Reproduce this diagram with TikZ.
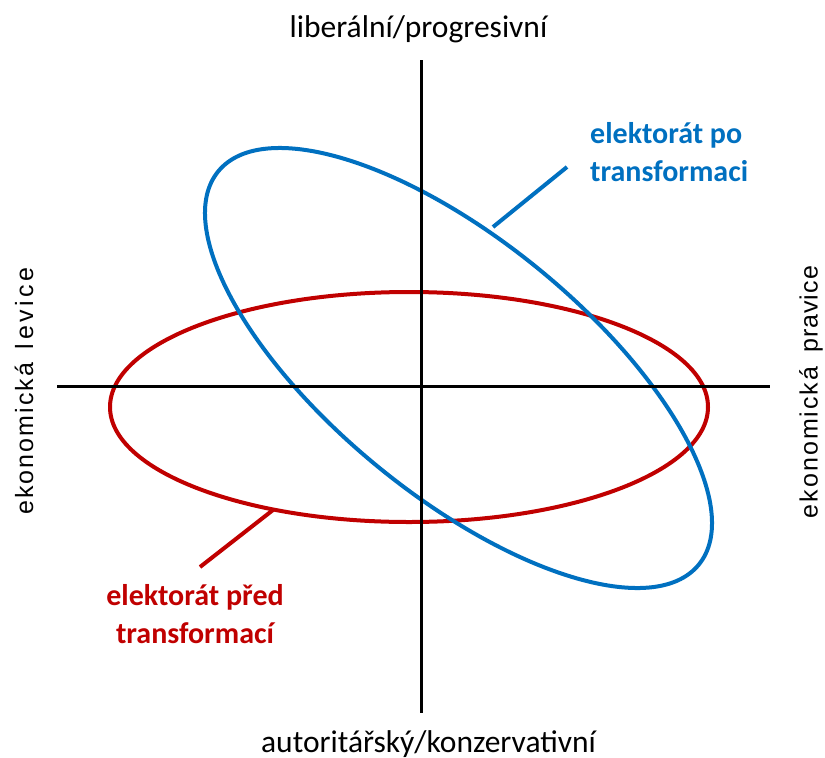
\documentclass[tikz,border=0pt]{standalone}
\usepackage{fontspec}
\setmainfont{Carlito}
\newfontfamily\arialf{Liberation Sans}
\definecolor{bluec}{HTML}{0070C0}
\definecolor{redc}{HTML}{C00000}
\tikzset{
  axisline/.style={line width=3pt, black},
  blueline/.style={line width=4pt, bluec},
  redline/.style={line width=4pt, redc},
  axislabel/.style={inner sep=0pt, font=\fontsize{31.5}{38}\selectfont},
  sidelabel/.style={inner sep=0pt, rotate=90, font=\arialf\fontsize{25}{30}\selectfont},
  grouplabel/.style={inner sep=0pt, font=\bfseries\fontsize{30}{38.5}\selectfont}
}
\begin{document}
\begin{tikzpicture}[x=1pt,y=-1pt]
\useasboundingbox (0,0) rectangle (825,758);
% ellipses
\draw[redline] (409,407) ellipse [x radius=299pt, y radius=115pt];
\draw[blueline, rotate around={-39.3:(458.5,368)}] (458.5,368) ellipse [x radius=310.5pt, y radius=127.4pt];
% axes
\coordinate (L) at (57,386);
\coordinate (R) at (770,386);
\coordinate (T) at (421,60);
\coordinate (B) at (421,713);
\draw[axisline] (L) -- (R);
\draw[axisline] (T) -- (B);
% labels
\node[axislabel, anchor=base] (top) at (418.5,37) {liberální/progresivní};
\node[axislabel, anchor=base] (bottom) at (428.5,752) {autoritářský/konzervativní};
\node[sidelabel] (left) at (24,391) {{\addfontfeatures{LetterSpace=8}ekonomická}\hspace{14pt}{\addfontfeatures{LetterSpace=14}levice}};
\node[sidelabel] (right) at (811,392) {{\addfontfeatures{LetterSpace=8}ekonomická}\hspace{14pt}{\addfontfeatures{LetterSpace=4}pravice}};
% group labels
\node[grouplabel, text=bluec, anchor=base west] (bluelab) at (590,143) {\begin{tabular}[t]{@{}l@{}}elektorát po\\transformaci\end{tabular}};
\node[grouplabel, text=redc, anchor=base] (redlab) at (195,605) {\begin{tabular}[t]{@{}c@{}}elektorát před\\transformací\end{tabular}};
% pointers
\coordinate (bp1) at (493,227);
\coordinate (bp2) at (567,167);
\coordinate (rp1) at (273,510);
\coordinate (rp2) at (200,567);
\draw[blueline] (bp1) -- (bp2);
\draw[redline] (rp1) -- (rp2);
\end{tikzpicture}
\end{document}
